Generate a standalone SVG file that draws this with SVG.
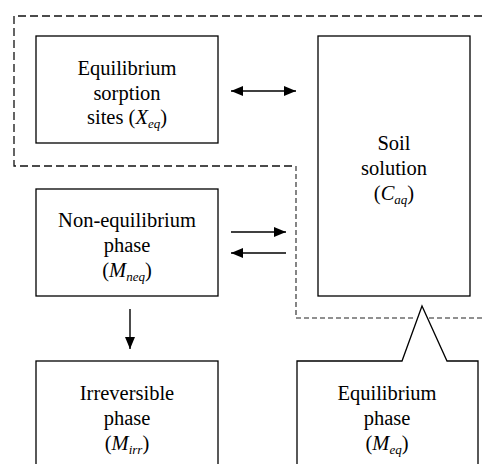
<svg xmlns="http://www.w3.org/2000/svg" width="482" height="464" viewBox="0 0 482 464">
<defs>
<style>
.box{fill:#fff;stroke:#000;stroke-width:1.3}
.t{font-family:'Liberation Serif','Times New Roman',serif;font-size:20.5px;fill:#000;text-anchor:middle}
.i{font-style:italic}
.s{font-style:italic;font-size:13px}
.ln{stroke:#000;stroke-width:1.4;fill:none}
.d1{fill:none;stroke:#111;stroke-width:1.3;stroke-dasharray:8 4}
.d2{fill:none;stroke:#222;stroke-width:1.1;stroke-dasharray:5 3}
</style>
<marker id="ah" viewBox="0 0 12 10" refX="12" refY="5" markerWidth="12" markerHeight="10" markerUnits="userSpaceOnUse" orient="auto-start-reverse">
<path d="M0,0 L12,5 L0,10 Z" fill="#000"/>
</marker>
</defs>
<g id="boundary">
<path class="d1" d="M482,16 H14 V166 H296"/>
<path class="d2" d="M296,166 V318 H415 M429,318 H482"/>
</g>
<g id="n1">
<rect class="box" x="36" y="36" width="182" height="107"/>
<text class="t" x="127" y="75">Equilibrium</text>
<text class="t" x="127" y="100">sorption</text>
<text class="t" x="127" y="124">sites (<tspan class="i">X</tspan><tspan class="s" dy="4">eq</tspan><tspan dy="-4">)</tspan></text>
</g>
<g id="n2">
<rect class="box" x="318" y="36" width="152" height="260"/>
<text class="t" x="394" y="150">Soil</text>
<text class="t" x="394" y="175">solution</text>
<text class="t" x="394" y="200">(<tspan class="i">C</tspan><tspan class="s" dy="4">aq</tspan><tspan dy="-4">)</tspan></text>
</g>
<g id="n3">
<rect class="box" x="36" y="189" width="182" height="107"/>
<text class="t" x="127" y="227">Non-equilibrium</text>
<text class="t" x="127" y="252">phase</text>
<text class="t" x="127" y="277">(<tspan class="i">M</tspan><tspan class="s" dy="4">neq</tspan><tspan dy="-4">)</tspan></text>
</g>
<g id="n4">
<rect class="box" x="36" y="361" width="182" height="110"/>
<text class="t" x="127" y="400">Irreversible</text>
<text class="t" x="127" y="425">phase</text>
<text class="t" x="127" y="450">(<tspan class="i">M</tspan><tspan class="s" dy="4">irr</tspan><tspan dy="-4">)</tspan></text>
</g>
<g id="n5">
<path class="box" d="M297,471 V361 H402 L422,306 L447,361 H478 V471"/>
<text class="t" x="387" y="400">Equilibrium</text>
<text class="t" x="387" y="425">phase</text>
<text class="t" x="387" y="450">(<tspan class="i">M</tspan><tspan class="s" dy="4">eq</tspan><tspan dy="-4">)</tspan></text>
</g>
<g id="connectors">
<line class="ln" x1="231" y1="91" x2="296" y2="91" marker-start="url(#ah)" marker-end="url(#ah)"/>
<line class="ln" x1="231" y1="232" x2="286" y2="232" marker-end="url(#ah)"/>
<line class="ln" x1="286" y1="253" x2="231" y2="253" marker-end="url(#ah)"/>
<line class="ln" x1="130" y1="309" x2="130" y2="349" marker-end="url(#ah)"/>
</g>
</svg>
